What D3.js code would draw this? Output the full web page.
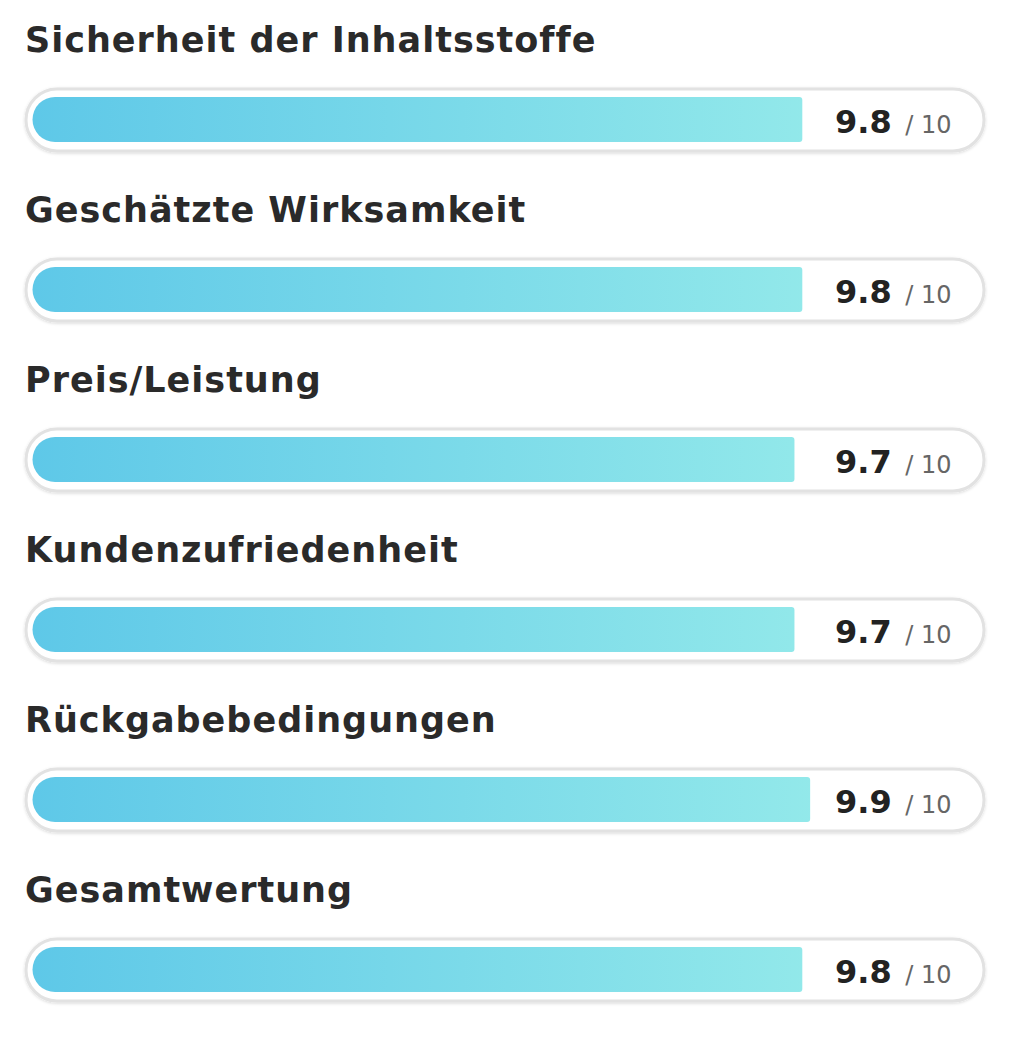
<!DOCTYPE html>
<html><head><meta charset="utf-8">
<script src="https://cdn.jsdelivr.net/npm/d3@7"></script>
<style>body{margin:0;background:#fff}</style></head>
<body><svg id="c" width="1024" height="1049"></svg>
<script>
const categories = ["Sicherheit der Inhaltsstoffe", "Geschätzte Wirksamkeit", "Preis/Leistung",
  "Kundenzufriedenheit", "Rückgabebedingungen", "Gesamtwertung"]
const scores = [9.8, 9.8, 9.7, 9.7, 9.9, 9.8]
const maxScore = 10

const svg = d3.select("#c")
const x = d3.scaleLinear().domain([0, maxScore]).range([33, 818])
const y = d3.scaleBand().domain(categories).range([0, 1020])

const defs = svg.append("defs")
const grad = defs.append("linearGradient").attr("id", "g").attr("gradientUnits", "userSpaceOnUse")
  .attr("x1", 33).attr("x2", 818).attr("y1", 0).attr("y2", 0)
grad.append("stop").attr("offset", "0%").attr("stop-color", "#5ec8e8")
grad.append("stop").attr("offset", "100%").attr("stop-color", "#93e9ea")
const f = defs.append("filter").attr("id", "sh").attr("x", "-5%").attr("y", "-30%").attr("width", "110%").attr("height", "160%")
f.append("feDropShadow").attr("dx", 0).attr("dy", 1).attr("stdDeviation", 1.5).attr("flood-color", "#000").attr("flood-opacity", 0.15)

const row = svg.selectAll("g.row").data(categories).join("g")
  .attr("transform", d => `translate(0,${y(d)})`)

row.append("text").attr("x", 25).attr("y", 52).text(d => d)
  .attr("font-family", "DejaVu Sans, sans-serif").attr("font-size", 35).attr("font-weight", "bold")
  .attr("letter-spacing", 1).attr("fill", "#2a2a2a")

row.append("rect").attr("x", 26).attr("y", 89).attr("width", 958).attr("height", 62)
  .attr("rx", 31).attr("fill", "#fff").attr("stroke", "#e2e2e2").attr("stroke-width", 3)
  .attr("filter", "url(#sh)")

row.append("path").attr("fill", "url(#g)")
  .attr("d", (d, i) => {
    const x0 = x(0), x1 = x(scores[i]), t = 97, b = 142, r = 22
    return `M${x0 + r},${t}H${x1 - 3}Q${x1},${t} ${x1},${t + 3}V${b - 3}Q${x1},${b} ${x1 - 3},${b}H${x0 + r}A${r},${r} 0 0 1 ${x0 + r},${t}Z`
  })

const lab = row.append("text").attr("x", 835).attr("y", 133)
  .attr("font-family", "DejaVu Sans, sans-serif")
lab.append("tspan").text((d, i) => scores[i].toFixed(1)).attr("font-size", 32).attr("font-weight", "bold").attr("fill", "#222")
lab.append("tspan").text(" / " + maxScore).attr("dx", 6).attr("font-size", 24).attr("fill", "#666")
</script></body></html>
